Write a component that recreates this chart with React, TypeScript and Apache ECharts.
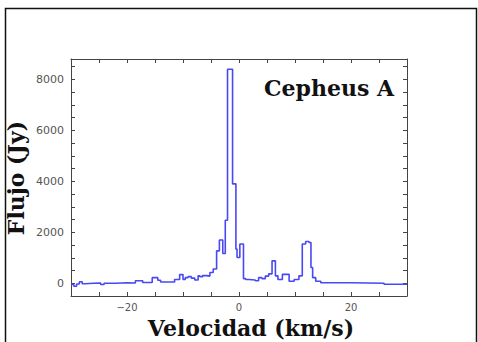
import React, { useEffect, useRef } from "react";
import * as echarts from "echarts";

// Velocity channel left edges (km/s) and flux (Jy) — step spectrum
const velocity = [-30, -29.5, -29, -28.5, -28, -27.5, -26, -24.7, -24.1, -22, -20, -18.5, -17.2, -15.5, -14.5, -14, -11.5, -10.6, -10.0, -9.6, -9.1, -8.5, -7.9, -7.3, -7.0, -6.5, -5.8, -5.2, -4.6, -4.0, -3.5, -2.9, -2.45, -2.05, -1.15, -0.55, -0.35, 0.15, 0.8, 1.2, 1.75, 2.9, 3.5, 4.1, 4.7, 5.3, 5.9, 6.5, 6.95, 7.75, 8.95, 9.85, 10.7, 11.3, 11.9, 12.5, 12.85, 13.15, 13.7, 14.6, 20, 25.9, 30];
const flux = [-50, -120, -30, 60, -20, 0, 10, -50, 0, 20, 10, 100, 30, 220, 120, 50, 150, 340, 150, 220, 260, 200, 130, 290, 260, 300, 280, 420, 560, 1270, 1700, 1170, 2470, 8400, 3900, 1340, 1010, 1540, 180, 150, 130, 100, 220, 180, 280, 370, 880, 290, 150, 350, 80, 150, 290, 1540, 1640, 1600, 620, 220, 80, 20, 0, -40, -40];

const xLabels = [-20, 0, 20];
const yLabels = [0, 2000, 4000, 6000, 8000];
const titleText = "Cepheus A";
const xName = "Velocidad (km/s)";
const yName = "Flujo (Jy)";

const SERIF = "'DejaVu Serif', serif";

export default function App() {
  const ref = useRef<HTMLDivElement>(null);
  useEffect(() => {
    if (!ref.current) return;
    const chart = echarts.init(ref.current, undefined, { renderer: "svg" });
    const axisLine = { show: true, onZero: false, lineStyle: { color: "#444", width: 1 } };
    const tick = { show: true, inside: true, length: 4, lineStyle: { color: "#444", width: 1 } };
    const fmtX = (v: number) => (xLabels.includes(v) ? (v < 0 ? "\u2212" + Math.abs(v) : String(v)) : "");
    const fmtY = (v: number) => (yLabels.includes(v) ? String(v) : "");
    chart.setOption({
      animation: false,
      backgroundColor: "#ffffff",
      grid: { left: 71, top: 59, width: 336, height: 237, outerBoundsMode: "none", containLabel: false },
      xAxis: [
        {
          type: "value", min: -30, max: 30, interval: 5, position: "bottom",
          axisLine, axisTick: tick, splitLine: { show: false },
          axisLabel: { formatter: fmtX, color: "#555", fontSize: 10, margin: 6, lineHeight: 10, fontFamily: "'DejaVu Sans', sans-serif" },
        },
        {
          type: "value", min: -30, max: 30, interval: 5, position: "top",
          axisLine, axisTick: tick, splitLine: { show: false }, axisLabel: { show: false },
        },
      ],
      yAxis: [
        {
          type: "value", min: -500, max: 8800, interval: 500, position: "left",
          axisLine, axisTick: tick, splitLine: { show: false },
          axisLabel: { formatter: fmtY, color: "#555", fontSize: 11, margin: 7, fontFamily: "'DejaVu Sans', sans-serif", showMinLabel: false, showMaxLabel: false },
        },
        {
          type: "value", min: -500, max: 8800, interval: 500, position: "right",
          axisLine, axisTick: tick, splitLine: { show: false }, axisLabel: { show: false },
        },
      ],
      graphic: [
        {
          type: "rect", shape: { x: 5.5, y: 8.5, width: 471, height: 340 },
          style: { fill: "none", stroke: "#111", lineWidth: 1.5 }, silent: true,
        },
        {
          type: "text", x: 264, y: 77,
          style: { text: titleText, font: `bold 22px ${SERIF}`, fill: "#111" },
        },
        {
          type: "text", x: 251, y: 317,
          style: { text: xName, font: `bold 22px ${SERIF}`, fill: "#111", textAlign: "center", textVerticalAlign: "top" },
        },
        {
          type: "text", x: 16, y: 178, rotation: Math.PI / 2,
          style: { text: yName, font: `bold 22px ${SERIF}`, fill: "#111", textAlign: "center", textVerticalAlign: "middle" },
        },
      ],
      series: [
        {
          type: "line", step: "end", xAxisIndex: 0, yAxisIndex: 0,
          data: velocity.map((v, i) => [v, flux[i]]),
          showSymbol: false, symbol: "none",
          lineStyle: { color: "#4848f4", width: 1.6 },
        },
      ],
    });
    return () => chart.dispose();
  }, []);
  return <div ref={ref} style={{ position: "fixed", left: 0, top: 0, width: 478, height: 342 }} />;
}
